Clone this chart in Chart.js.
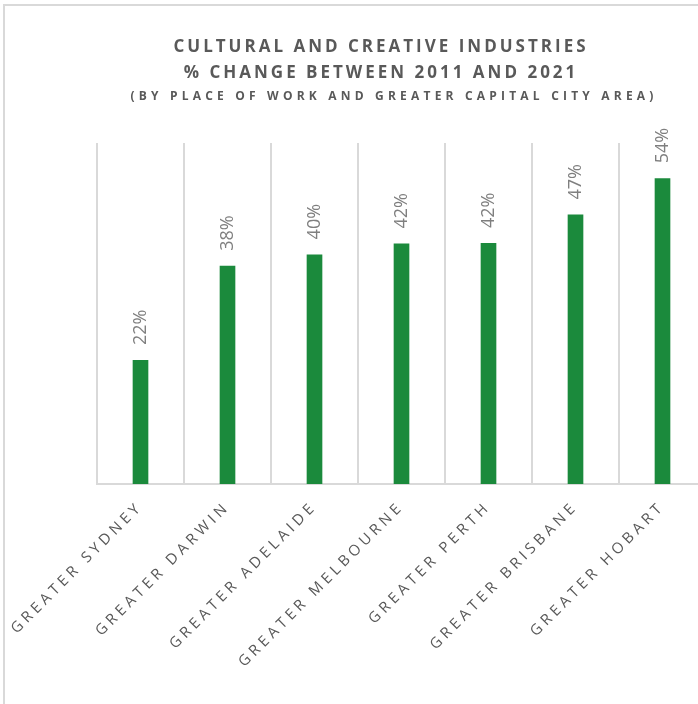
<!DOCTYPE html>
<html>
<head>
<meta charset="utf-8">
<script src="https://cdn.jsdelivr.net/npm/chart.js@4"></script>
<style>
  html, body { margin: 0; padding: 0; background: #fff; overflow: hidden; }
  #frame {
    position: absolute; left: 3px; top: 4px;
    width: 760px; height: 710px;
    border-left: 2px solid #d9d9d9; border-top: 2px solid #d9d9d9;
  }
  #chart { display: block; }
</style>
</head>
<body>
<div id="frame"><canvas id="chart" width="750" height="700"></canvas></div>
<script>
const titleLines = [
  "CULTURAL AND CREATIVE INDUSTRIES",
  "% CHANGE BETWEEN 2011 AND 2021",
  "(BY PLACE OF WORK AND GREATER CAPITAL CITY AREA)",
];
const categories = [
  "GREATER SYDNEY",
  "GREATER DARWIN",
  "GREATER ADELAIDE",
  "GREATER MELBOURNE",
  "GREATER PERTH",
  "GREATER BRISBANE",
  "GREATER HOBART",
];
// % change 2011-2021
const pctChange = [21.8, 38.4, 40.4, 42.3, 42.4, 47.4, 53.8];

const TEXT_GREY = "#595959";

// title + rotated value labels, drawn with letter spacing
const labelsPlugin = {
  id: "labels",
  beforeDraw(chart) {
    chart.ctx.letterSpacing = "4px"; // tick labels are spaced out
  },
  afterDraw(chart) {
    const ctx = chart.ctx;
    ctx.save();
    ctx.fillStyle = TEXT_GREY;
    ctx.textAlign = "center";
    ctx.textBaseline = "middle";
    ctx.font = "bold 17px 'Open Sans'";
    ctx.letterSpacing = "3px";
    ctx.fillText(titleLines[0], 376, 41);
    ctx.fillText(titleLines[1], 376, 67);
    ctx.font = "bold 12px 'Open Sans'";
    ctx.letterSpacing = "4.2px";
    ctx.fillText(titleLines[2], 389, 91);
    ctx.restore();

    const meta = chart.getDatasetMeta(0);
    ctx.save();
    ctx.fillStyle = "#7f7f7f";
    ctx.font = "18px 'Open Sans'";
    ctx.letterSpacing = "0px";
    ctx.textAlign = "left";
    ctx.textBaseline = "middle";
    meta.data.forEach((bar, i) => {
      ctx.save();
      ctx.translate(bar.x, bar.y - 15);
      ctx.rotate(-Math.PI / 2);
      ctx.fillText(Math.round(pctChange[i]) + "%", 0, 0);
      ctx.restore();
    });
    ctx.restore();
  },
};

new Chart(document.getElementById("chart"), {
  type: "bar",
  data: {
    labels: categories,
    datasets: [{
      data: pctChange,
      backgroundColor: "#1b8a3c",
      barPercentage: 0.36,
      categoryPercentage: 0.5,
    }],
  },
  options: {
    responsive: false,
    animation: false,
    layout: { padding: { left: 92, top: 137, right: 49, bottom: 0 } },
    plugins: {
      legend: { display: false },
      tooltip: { enabled: false },
      title: { display: false },
    },
    scales: {
      x: {
        grid: { offset: true, color: "#d9d9d9", lineWidth: 2, drawTicks: false },
        border: { display: true, color: "#d9d9d9", width: 2 },
        ticks: {
          minRotation: 45,
          maxRotation: 45,
          padding: 14,
          color: TEXT_GREY,
          font: { family: "'Open Sans'", size: 15 },
        },
        afterFit(scale) { scale.height = 222; },
      },
      y: {
        display: false,
        min: 0,
        max: 60,
      },
    },
  },
  plugins: [labelsPlugin],
});
</script>
</body>
</html>
